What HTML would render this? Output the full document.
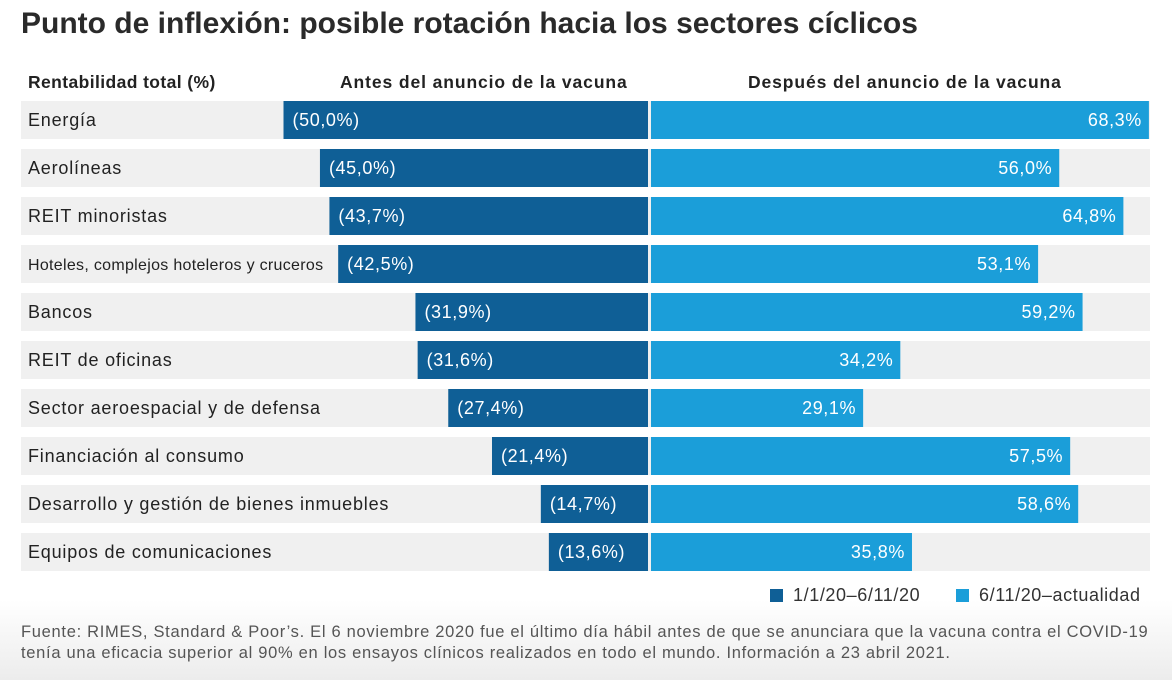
<!DOCTYPE html>
<html><head><meta charset="utf-8"><style>
body{margin:0;width:1172px;height:680px;overflow:hidden;background:linear-gradient(#fff 0,#fff 600px,#ececec 680px);font-family:"Liberation Sans",sans-serif;position:relative}
.t{position:absolute;white-space:nowrap}
</style></head><body>
<div class="t" style="left:21px;top:7px;font-size:30px;font-weight:bold;color:#2a2a2a">Punto de inflexión: posible rotación hacia los sectores cíclicos</div>
<div class="t" style="left:28px;top:72px;font-size:17.5px;letter-spacing:0.4px;font-weight:bold;color:#222">Rentabilidad total (%)</div>
<div class="t" style="left:340px;top:72px;font-size:17.5px;letter-spacing:0.9px;font-weight:bold;color:#222">Antes del anuncio de la vacuna</div>
<div class="t" style="left:748px;top:72px;font-size:17.5px;letter-spacing:0.9px;font-weight:bold;color:#222">Después del anuncio de la vacuna</div>
<svg id="c" width="1172" height="680" style="position:absolute;left:0;top:0"></svg>
<div class="t" style="left:770px;top:585px;font-size:18px;letter-spacing:0.6px;color:#333"><span style="display:inline-block;width:13px;height:13px;background:#0f5f96;margin-right:10px;vertical-align:-1px"></span>1/1/20–6/11/20</div>
<div class="t" style="left:956px;top:585px;font-size:18px;letter-spacing:0.6px;color:#333"><span style="display:inline-block;width:13px;height:13px;background:#1b9ed9;margin-right:10px;vertical-align:-1px"></span>6/11/20–actualidad</div>
<div class="t" style="left:21px;top:622px;font-size:16.5px;letter-spacing:0.7px;color:#555;line-height:21px">Fuente: RIMES, Standard &amp; Poor’s. El 6 noviembre 2020 fue el último día hábil antes de que se anunciara que la vacuna contra el COVID-19<br>tenía una eficacia superior al 90% en los ensayos clínicos realizados en todo el mundo. Información a 23 abril 2021.</div>
<script>
const categories=["Energía","Aerolíneas","REIT minoristas","Hoteles, complejos hoteleros y cruceros","Bancos","REIT de oficinas","Sector aeroespacial y de defensa","Financiación al consumo","Desarrollo y gestión de bienes inmuebles","Equipos de comunicaciones"];
const beforeValues=[-50.0,-45.0,-43.7,-42.5,-31.9,-31.6,-27.4,-21.4,-14.7,-13.6];
const afterValues=[68.3,56.0,64.8,53.1,59.2,34.2,29.1,57.5,58.6,35.8];
const svg=document.getElementById('c');const NS="http://www.w3.org/2000/svg";
const sc=7.29;
const xl=v=>648-Math.abs(v)*sc, xr=v=>651+v*sc, y=i=>101+i*48;
const fmt=v=>v.toFixed(1).replace('.',',')+'%';
function mk(t,a){const e=document.createElementNS(NS,t);for(const k in a)e.setAttribute(k,a[k]);svg.appendChild(e);return e;}
categories.forEach((c,i)=>{
 const b=mk('rect',{x:21,y:y(i),width:1129,height:38,fill:'#f0f0f0'});
 
 
 const l=mk('text',{x:28,y:y(i)+25,'font-size':i==3?16:18,'letter-spacing':i==3?0.3:0.8,fill:'#222'});l.textContent=c;
 
 
 const v1=beforeValues[i],x1=xl(v1);
 const r1=mk('rect',{x:x1,y:y(i),width:648-x1,height:38,fill:'#0f5f96'});
 
 
 const t1=mk('text',{x:x1+9,y:y(i)+25,'font-size':18,'letter-spacing':0.6,fill:'#fff'});t1.textContent='('+fmt(Math.abs(v1))+')';
 
 
 const v2=afterValues[i],x2=xr(v2);
 const r2=mk('rect',{x:651,y:y(i),width:x2-651,height:38,fill:'#1b9ed9'});
 
 
 const t2=mk('text',{x:x2-7,y:y(i)+25,'font-size':18,'letter-spacing':0.6,fill:'#fff','text-anchor':'end'});t2.textContent=fmt(v2);
 
 
});
</script>
</body></html>
